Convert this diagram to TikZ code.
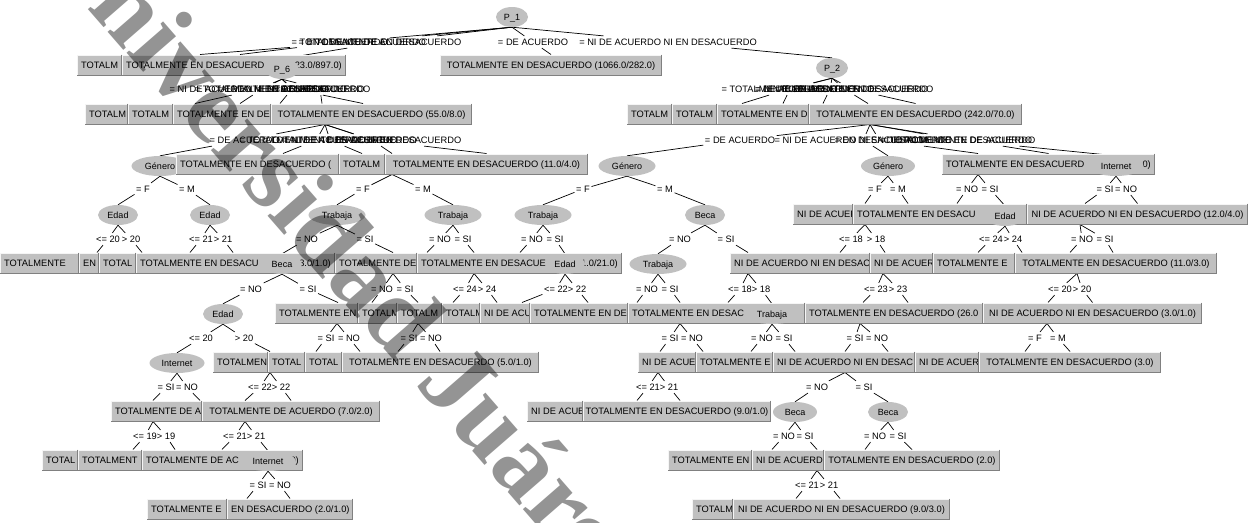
\documentclass[tikz,border=0pt]{standalone}
\usepackage{fontspec}
\setmainfont{Liberation Sans}
\newfontfamily\wmfont{Liberation Serif}
\usetikzlibrary{shapes.geometric}
\definecolor{boxgray}{RGB}{192,192,192}
\definecolor{boxdark}{RGB}{128,128,128}
\definecolor{boxlight}{RGB}{245,245,245}
\pgfdeclarelayer{bg}\pgfdeclarelayer{edges}\pgfdeclarelayer{wm}
\pgfsetlayers{bg,edges,main,wm}
\tikzset{
  txt/.style={font=\fontsize{9.3}{10}\selectfont, inner sep=0pt, text=black, text height=6.8pt, text depth=0pt},
  lbl/.style={font=\fontsize{9.3}{10}\selectfont, inner xsep=1.5pt, inner ysep=2.5pt, text=black, text height=6.8pt, text depth=0pt},
  ell/.style={ellipse, fill=boxgray, inner sep=0pt, minimum height=20pt, font=\fontsize{9}{10}\selectfont, text height=6.6pt, text depth=0pt},
  conn/.style={draw=black, line width=0.7pt},
  boxanchor/.style={inner sep=0pt, outer sep=0pt, minimum height=21pt},
}
\newcommand\wbox[6]{%
  \node[boxanchor, minimum width={#3pt-#2pt}] (#1) at ({(#2+#3)/2},#4) {};
  \begin{scope}
    \clip (#2,#4-10.5) rectangle (#3,#4+10.5);
    \fill[boxgray] (#2,#4-10.5) rectangle (#3,#4+10.5);
    \node[txt, anchor=west] (#1l) at (#2+4,#4) {#5};
    \node[txt, anchor=east] (#1r) at (#3-4,#4) {#6};
  \end{scope}
  \draw[boxlight, line width=0.8pt] (#2+0.4,#4+10.5) -- (#2+0.4,#4-10.1) -- (#3,#4-10.1);
  \draw[boxdark, line width=0.8pt] (#3-0.4,#4-10.5) -- (#3-0.4,#4+10.1) -- (#2,#4+10.1);
}
\newcommand\cbox[5]{%
  \node[boxanchor, minimum width={#3pt-#2pt}] (#1) at ({(#2+#3)/2},#4) {};
  \begin{scope}
    \clip (#2,#4-10.5) rectangle (#3,#4+10.5);
    \fill[boxgray] (#2,#4-10.5) rectangle (#3,#4+10.5);
    \node[txt] (#1t) at ({(#2+#3)/2},#4) {#5};
  \end{scope}
  \draw[boxlight, line width=0.8pt] (#2+0.4,#4+10.5) -- (#2+0.4,#4-10.1) -- (#3,#4-10.1);
  \draw[boxdark, line width=0.8pt] (#3-0.4,#4-10.5) -- (#3-0.4,#4+10.1) -- (#2,#4+10.1);
}
\newcommand\ed[3]{\draw[conn] (#1) -- (#2) (#2) -- (#3);}
\begin{document}
\begin{tikzpicture}[x=1pt,y=-1pt]
\useasboundingbox (0,0) rectangle (1250,522);
\begin{pgfonlayer}{bg}\fill[white] (0,0) rectangle (1250,522);\end{pgfonlayer}

% ---------- R0 / R1
\node[ell, minimum width=32pt] (P1) at (512,17) {P\_1};
\wbox{b1a}{77}{122}{65}{TOTALM}{}
\wbox{b1b}{122}{346}{65}{TOTALMENTE EN DESACUERD}{23.0/897.0)}
\node[ell, minimum width=34pt] (P6) at (282,69) {P\_6};
\cbox{b1c}{440}{662}{65}{TOTALMENTE EN DESACUERDO (1066.0/282.0)}
\node[ell, minimum width=32pt] (P2) at (832,68) {P\_2};
% ---------- R2
\wbox{b2a}{85}{128}{114}{TOTALM}{}
\wbox{b2b}{128}{173}{114}{TOTALM}{}
\wbox{b2c}{173}{271}{114}{TOTALMENTE EN DE}{}
\cbox{b2d}{271}{472}{114}{TOTALMENTE EN DESACUERDO (55.0/8.0)}
\wbox{b2e}{627}{672}{114}{TOTALM}{}
\wbox{b2f}{672}{717}{114}{TOTALM}{}
\wbox{b2g}{717}{809}{114}{TOTALMENTE EN D}{}
\cbox{b2h}{809}{1022}{114}{TOTALMENTE EN DESACUERDO (242.0/70.0)}
% ---------- R3
\node[ell, minimum width=57pt] (Gen1) at (160,166) {Género};
\wbox{b3a}{176}{339}{164}{TOTALMENTE EN DESACUERDO (}{}
\wbox{b3b}{339}{385}{164}{TOTALM}{}
\cbox{b3c}{385}{588}{164}{TOTALMENTE EN DESACUERDO (11.0/4.0)}
\node[ell, minimum width=57pt] (Gen2) at (627,166) {Género};
\node[ell, minimum width=54pt] (Gen3) at (888,166) {Género};
\wbox{b3d}{942}{1155}{164}{TOTALMENTE EN DESACUERD}{0)}
\node[ell, minimum width=55pt] (Int1) at (1116,166) {Internet};
% ---------- R4
\node[ell, minimum width=40pt] (Ed1) at (118,215) {Edad};
\node[ell, minimum width=40pt] (Ed2) at (210,215) {Edad};
\node[ell, minimum width=57pt] (Tr1) at (337,215) {Trabaja};
\node[ell, minimum width=57pt] (Tr2) at (453,215) {Trabaja};
\node[ell, minimum width=57pt] (Tr3) at (543,215) {Trabaja};
\node[ell, minimum width=40pt] (Be1) at (705,215) {Beca};
\wbox{b4a}{793}{853}{214}{NI DE ACUER}{}
\wbox{b4b}{853}{1027}{214}{TOTALMENTE EN DESACU}{}
\node[ell, minimum width=40pt] (Ed3) at (1005,216) {Edad};
\cbox{b4c}{1027}{1248}{214}{NI DE ACUERDO NI EN DESACUERDO (12.0/4.0)}
% ---------- R5
\wbox{b5a}{0}{79}{263}{TOTALMENTE}{}
\wbox{b5b}{79}{99}{263}{EN}{}
\wbox{b5c}{99}{136}{263}{TOTAL}{}
\wbox{b5d}{136}{335}{263}{TOTALMENTE EN DESACU}{3.0/1.0)}
\node[ell, minimum width=40pt] (Be2) at (282,264) {Beca};
\wbox{b5e}{335}{417}{263}{TOTALMENTE DE}{}
\wbox{b5f}{417}{622}{263}{TOTALMENTE EN DESACUE}{1.0/21.0)}
\node[ell, minimum width=40pt] (Ed4) at (565,264) {Edad};
\node[ell, minimum width=57pt] (Tr4) at (658,264) {Trabaja};
\wbox{b5g}{730}{870}{263}{NI DE ACUERDO NI EN DESAC}{}
\wbox{b5h}{870}{933}{263}{NI DE ACUER}{}
\wbox{b5i}{933}{1015}{263}{TOTALMENTE E}{}
\cbox{b5j}{1015}{1217}{263}{TOTALMENTE EN DESACUERDO (11.0/3.0)}
% ---------- R6
\node[ell, minimum width=40pt] (Ed5) at (223,314) {Edad};
\wbox{b6a}{275}{358}{313}{TOTALMENTE EN}{}
\wbox{b6b}{358}{397}{313}{TOTALM}{}
\wbox{b6c}{397}{442}{313}{TOTALM}{}
\wbox{b6d}{442}{480}{313}{TOTALM}{}
\wbox{b6e}{480}{530}{313}{NI DE ACU}{}
\wbox{b6f}{530}{628}{313}{TOTALMENTE EN DE}{}
\wbox{b6g}{628}{805}{313}{TOTALMENTE EN DESAC}{}
\node[ell, minimum width=57pt] (Tr5) at (772,314) {Trabaja};
\wbox{b6h}{805}{983}{313}{TOTALMENTE EN DESACUERDO (26.0}{}
\cbox{b6i}{983}{1202}{313}{NI DE ACUERDO NI EN DESACUERDO (3.0/1.0)}
% ---------- R7
\node[ell, minimum width=55pt] (Int2) at (177,363) {Internet};
\wbox{b7a}{213}{268}{362}{TOTALMEN}{}
\wbox{b7b}{268}{305}{362}{TOTAL}{}
\wbox{b7c}{305}{342}{362}{TOTAL}{}
\cbox{b7d}{342}{539}{362}{TOTALMENTE EN DESACUERDO (5.0/1.0)}
\wbox{b7e}{638}{696}{362}{NI DE ACUE}{}
\wbox{b7f}{696}{773}{362}{TOTALMENTE E}{}
\wbox{b7g}{773}{915}{362}{NI DE ACUERDO NI EN DESAC}{}
\wbox{b7h}{915}{979}{362}{NI DE ACUER}{}
\cbox{b7i}{979}{1161}{362}{TOTALMENTE EN DESACUERDO (3.0)}
% ---------- R8
\wbox{b8a}{111}{202}{411}{TOTALMENTE DE A}{}
\cbox{b8b}{202}{380}{411}{TOTALMENTE DE ACUERDO (7.0/2.0)}
\wbox{b8c}{527}{583}{411}{NI DE ACUE}{}
\cbox{b8d}{583}{771}{411}{TOTALMENTE EN DESACUERDO (9.0/1.0)}
\node[ell, minimum width=44pt] (Be3) at (795,412) {Beca};
\node[ell, minimum width=40pt] (Be4) at (888,412) {Beca};
% ---------- R9
\wbox{b9a}{42}{78}{460}{TOTAL}{}
\wbox{b9b}{78}{142}{460}{TOTALMENT}{}
\wbox{b9c}{142}{303}{460}{TOTALMENTE DE AC}{0)}
\node[ell, minimum width=55pt] (Int3) at (268,461) {Internet};
\wbox{b9d}{668}{752}{460}{TOTALMENTE EN}{}
\wbox{b9e}{752}{824}{460}{NI DE ACUERD}{}
\cbox{b9f}{824}{1000}{460}{TOTALMENTE EN DESACUERDO (2.0)}
% ---------- R10
\wbox{b10a}{147}{227}{509}{TOTALMENTE E}{}
\wbox{b10b}{227}{353}{509}{EN DESACUERDO (2.0/1.0)}{}
\wbox{b10c}{692}{733}{509}{TOTALM}{}
\cbox{b10d}{733}{950}{509}{NI DE ACUERDO NI EN DESACUERDO (9.0/3.0)}

% ---------- labels
% L0
\node[lbl, anchor=west] (l0a) at (290,42) {= TOTALMENTE DE ACUERDO};
\node[lbl, anchor=west] (l0b) at (297,42) {= EN DESACUERDO};
\node[lbl, anchor=east] (l0c) at (463,42) {= TOTALMENTE EN DESACUERDO};
\node[lbl] (l0d) at (533,42) {= DE ACUERDO};
\node[lbl] (l0e) at (668,42) {= NI DE ACUERDO NI EN DESACUERDO};
% L1
\node[lbl, anchor=west] (l1a) at (168,89) {= NI DE ACUERDO NI EN DESACUERDO};
\node[lbl] (l1b) at (262,89) {= TOTALMENTE DE ACUERDO};
\node[lbl] (l1c) at (292,89) {= DE ACUERDO};
\node[lbl] (l1d) at (320,89) {= EN DESACUERDO};
\node[lbl, anchor=east] (l1e) at (372,89) {= TOTALMENTE EN DESACUERDO};
\node[lbl, anchor=west] (l1f) at (720,89) {= TOTALMENTE DE ACUERDO};
\node[lbl] (l1g) at (790,89) {= DE ACUERDO};
\node[lbl] (l1h) at (830,89) {= EN DESACUERDO};
\node[lbl, anchor=east] (l1i) at (935,89) {= NI DE ACUERDO NI EN DESACUERDO};
\node[lbl, anchor=east] (l1j) at (930,89) {= TOTALMENTE EN DESACUERDO};
% L2
\node[lbl, anchor=west] (l2a) at (208,140) {= DE ACUERDO};
\node[lbl, anchor=west] (l2b) at (238,140) {= TOTALMENTE EN DESACUERDO};
\node[lbl] (l2c) at (330,140) {= TOTALMENTE DE ACUERDO};
\node[lbl] (l2d) at (372,140) {= EN DESACUERDO};
\node[lbl, anchor=east] (l2e) at (463,140) {= NI DE ACUERDO NI EN DESACUERDO};
\node[lbl] (l2f) at (740,140) {= DE ACUERDO};
\node[lbl, anchor=west] (l2g) at (773,140) {= NI DE ACUERDO NI EN DESACUERDO};
\node[lbl, anchor=west] (l2h) at (833,140) {= EN DESACUERDO};
\node[lbl] (l2i) at (965,140) {= TOTALMENTE DE ACUERDO};
\node[lbl, anchor=east] (l2j) at (1037,140) {= TOTALMENTE EN DESACUERDO};
% L3
\node[lbl] (l3a) at (143,189) {= F};
\node[lbl] (l3b) at (187,189) {= M};
\node[lbl] (l3c) at (363,189) {= F};
\node[lbl] (l3d) at (423,189) {= M};
\node[lbl] (l3e) at (583,189) {= F};
\node[lbl] (l3f) at (665,189) {= M};
\node[lbl] (l3g) at (875,189) {= F};
\node[lbl] (l3h) at (898,189) {= M};
\node[lbl] (l3i) at (967,189) {= NO};
\node[lbl] (l3j) at (990,189) {= SI};
\node[lbl] (l3k) at (1105,189) {= SI};
\node[lbl] (l3l) at (1126,189) {= NO};
% L4
\node[lbl] (l4a) at (108,239) {<= 20};
\node[lbl] (l4b) at (131,239) {> 20};
\node[lbl] (l4c) at (201,239) {<= 21};
\node[lbl] (l4d) at (223,239) {> 21};
\node[lbl] (l4e) at (307,239) {= NO};
\node[lbl] (l4f) at (365,239) {= SI};
\node[lbl] (l4g) at (440,239) {= NO};
\node[lbl] (l4h) at (463,239) {= SI};
\node[lbl] (l4i) at (532,239) {= NO};
\node[lbl] (l4j) at (555,239) {= SI};
\node[lbl] (l4k) at (680,239) {= NO};
\node[lbl] (l4l) at (726,239) {= SI};
\node[lbl] (l4m) at (851,239) {<= 18};
\node[lbl] (l4n) at (876,239) {> 18};
\node[lbl] (l4o) at (991,239) {<= 24};
\node[lbl] (l4p) at (1013,239) {> 24};
\node[lbl] (l4q) at (1082,239) {= NO};
\node[lbl] (l4r) at (1105,239) {= SI};
% L5
\node[lbl] (l5a) at (251,289) {= NO};
\node[lbl] (l5b) at (308,289) {= SI};
\node[lbl] (l5c) at (382,289) {= NO};
\node[lbl] (l5d) at (405,289) {= SI};
\node[lbl] (l5e) at (465,289) {<= 24};
\node[lbl] (l5f) at (487,289) {> 24};
\node[lbl] (l5g) at (556,289) {<= 22};
\node[lbl] (l5h) at (577,289) {> 22};
\node[lbl] (l5i) at (647,289) {= NO};
\node[lbl] (l5j) at (670,289) {= SI};
\node[lbl] (l5k) at (740,289) {<= 18};
\node[lbl] (l5l) at (761,289) {> 18};
\node[lbl] (l5m) at (876,289) {<= 23};
\node[lbl] (l5n) at (898,289) {> 23};
\node[lbl] (l5o) at (1060,289) {<= 20};
\node[lbl] (l5p) at (1082,289) {> 20};
% L6
\node[lbl] (l6a) at (201,338) {<= 20};
\node[lbl] (l6b) at (244,338) {> 20};
\node[lbl] (l6c) at (326,338) {= SI};
\node[lbl] (l6d) at (349,338) {= NO};
\node[lbl] (l6e) at (409,338) {= SI};
\node[lbl] (l6f) at (431,338) {= NO};
\node[lbl] (l6g) at (670,338) {= SI};
\node[lbl] (l6h) at (692,338) {= NO};
\node[lbl] (l6i) at (762,338) {= NO};
\node[lbl] (l6j) at (784,338) {= SI};
\node[lbl] (l6k) at (855,338) {= SI};
\node[lbl] (l6l) at (877,338) {= NO};
\node[lbl] (l6m) at (1035,338) {= F};
\node[lbl] (l6n) at (1058,338) {= M};
% L7
\node[lbl] (l7a) at (166,387) {= SI};
\node[lbl] (l7b) at (187,387) {= NO};
\node[lbl] (l7c) at (260,387) {<= 22};
\node[lbl] (l7d) at (281,387) {> 22};
\node[lbl] (l7e) at (648,387) {<= 21};
\node[lbl] (l7f) at (669,387) {> 21};
\node[lbl] (l7g) at (817,387) {= NO};
\node[lbl] (l7h) at (864,387) {= SI};
% L8
\node[lbl] (l8a) at (145,436) {<= 19};
\node[lbl] (l8b) at (166,436) {> 19};
\node[lbl] (l8c) at (235,436) {<= 21};
\node[lbl] (l8d) at (256,436) {> 21};
\node[lbl] (l8e) at (784,436) {= NO};
\node[lbl] (l8f) at (805,436) {= SI};
\node[lbl] (l8g) at (875,436) {= NO};
\node[lbl] (l8h) at (898,436) {= SI};
% L9
\node[lbl] (l9a) at (258,485) {= SI};
\node[lbl] (l9b) at (280,485) {= NO};
\node[lbl] (l9c) at (807,485) {<= 21};
\node[lbl] (l9d) at (829,485) {> 21};

% ---------- hidden parents (bottom points) and child ends (top points)
\coordinate (H1) at (325,124.5);  \coordinate (H2) at (870,124.5);
\coordinate (H3) at (392,174.5);  \coordinate (H8) at (978,174.5);
\coordinate (H7) at (865,224.5);  \coordinate (H9) at (1080,224.5);
\coordinate (H4) at (393,273.5);  \coordinate (H5) at (474,273.5);
\coordinate (H6) at (748,273.5);  \coordinate (H10) at (883,273.5);
\coordinate (H11) at (1077,273.5);
\coordinate (H17) at (337,323.5); \coordinate (H12) at (418,323.5);
\coordinate (H13) at (680,323.5); \coordinate (H14) at (860,323.5);
\coordinate (H15) at (1047,323.5);
\coordinate (H16) at (270,372.5); \coordinate (H22) at (658,372.5);
\coordinate (H18) at (845,372.5);
\coordinate (H19) at (153,421.5); \coordinate (H20) at (245,421.5);
\coordinate (H21) at (817,470.5);

\coordinate (t1a) at (200,54.5); \coordinate (t1b) at (240,54.5);
\coordinate (t2a) at (195,103.5); \coordinate (t2b) at (240,103.5);
\coordinate (t2c) at (280,103.5); \coordinate (t2d) at (322,103.5);
\coordinate (t2e) at (363,103.5); \coordinate (t2f) at (742,103.5);
\coordinate (t2g) at (783,103.5); \coordinate (t2h) at (823,103.5);
\coordinate (t2i) at (868,103.5);
\coordinate (t3b) at (283,153.5); \coordinate (t3c) at (362,153.5);
\coordinate (t3d) at (392,153.5); \coordinate (t3h) at (978,153.5);
\coordinate (t4g) at (865,203.5); \coordinate (t4h) at (908,203.5);
\coordinate (t4i) at (957,203.5); \coordinate (t4k) at (1085,203.5);
\coordinate (t5a) at (97,252.5);  \coordinate (t5b) at (142,252.5);
\coordinate (t5c) at (190,252.5); \coordinate (t5d) at (233,252.5);
\coordinate (t5f) at (393,252.5); \coordinate (t5g) at (427,252.5);
\coordinate (t5h) at (474,252.5); \coordinate (t5i) at (520,252.5);
\coordinate (t5l) at (748,252.5); \coordinate (t5m) at (840,252.5);
\coordinate (t5n) at (885,252.5); \coordinate (t5o) at (978,252.5);
\coordinate (t5p) at (1022,252.5); \coordinate (t5q) at (1070,252.5);
\coordinate (t5r) at (1113,252.5);
\coordinate (t6b) at (338,302.5); \coordinate (t6c) at (372,302.5);
\coordinate (t6d) at (418,302.5); \coordinate (t6e) at (453,302.5);
\coordinate (t6f) at (497,302.5); \coordinate (t6g) at (522,302.5);
\coordinate (t6h) at (588,302.5); \coordinate (t6i) at (637,302.5);
\coordinate (t6j) at (680,302.5); \coordinate (t6k) at (728,302.5);
\coordinate (t6m) at (863,302.5); \coordinate (t6n) at (908,302.5);
\coordinate (t6o) at (1048,302.5);
\coordinate (t7b) at (270,351.5); \coordinate (t7c) at (316,351.5);
\coordinate (t7d) at (360,351.5); \coordinate (t7e) at (398,351.5);
\coordinate (t7f) at (440,351.5); \coordinate (t7g) at (660,351.5);
\coordinate (t7h) at (703,351.5); \coordinate (t7i) at (751,351.5);
\coordinate (t7j) at (795,351.5); \coordinate (t7k) at (845,351.5);
\coordinate (t7l) at (888,351.5); \coordinate (t7m) at (1025,351.5);
\coordinate (t8a) at (153,400.5); \coordinate (t8b) at (200,400.5);
\coordinate (t8c) at (245,400.5); \coordinate (t8e) at (637,400.5);
\coordinate (t8f) at (680,400.5);
\coordinate (t9a) at (133,449.5); \coordinate (t9b) at (175,449.5);
\coordinate (t9c) at (222,449.5); \coordinate (t9e) at (772,449.5);
\coordinate (t9f) at (817,449.5); \coordinate (t9g) at (865,449.5);
\coordinate (t10a) at (247,498.5); \coordinate (t10b) at (290,498.5);
\coordinate (t10c) at (796,498.5); \coordinate (t10d) at (840,498.5);

% ---------- connectors
\begin{pgfonlayer}{edges}
\ed{P1.south}{l0a}{t1a} \ed{P1.south}{l0b}{t1b} \ed{P1.south}{l0c}{P6.north}
\ed{P1.south}{l0d}{b1c.north} \ed{P1.south}{l0e}{P2.north}
\ed{P6.south}{l1a}{t2a} \ed{P6.south}{l1b}{t2b} \ed{P6.south}{l1c}{t2c}
\ed{P6.south}{l1d}{t2d} \ed{P6.south}{l1e}{t2e}
\ed{P2.south}{l1f}{t2f} \ed{P2.south}{l1g}{t2g} \ed{P2.south}{l1h}{t2h}
\ed{P2.south}{l1i}{t2i} \ed{P2.south}{l1j}{b2h.north}
\ed{H1}{l2a}{Gen1.north} \ed{H1}{l2b}{t3b} \ed{H1}{l2c}{t3c} \ed{H1}{l2d}{t3d} \ed{H1}{l2e}{b3c.north}
\ed{H2}{l2f}{Gen2.north} \ed{H2}{l2g}{Gen3.north} \ed{H2}{l2h}{t3h} \ed{H2}{l2i}{b3d.north} \ed{H2}{l2j}{Int1.north}
\ed{Gen1.south}{l3a}{Ed1.north} \ed{Gen1.south}{l3b}{Ed2.north}
\ed{H3}{l3c}{Tr1.north} \ed{H3}{l3d}{Tr2.north}
\ed{Gen2.south}{l3e}{Tr3.north} \ed{Gen2.south}{l3f}{Be1.north}
\ed{Gen3.south}{l3g}{t4g} \ed{Gen3.south}{l3h}{t4h}
\ed{H8}{l3i}{t4i} \ed{H8}{l3j}{Ed3.north}
\ed{Int1.south}{l3k}{t4k} \ed{Int1.south}{l3l}{b4c.north}
\ed{Ed1.south}{l4a}{t5a} \ed{Ed1.south}{l4b}{t5b}
\ed{Ed2.south}{l4c}{t5c} \ed{Ed2.south}{l4d}{t5d}
\ed{Tr1.south}{l4e}{Be2.north} \ed{Tr1.south}{l4f}{t5f}
\ed{Tr2.south}{l4g}{t5g} \ed{Tr2.south}{l4h}{t5h}
\ed{Tr3.south}{l4i}{t5i} \ed{Tr3.south}{l4j}{Ed4.north}
\ed{Be1.south}{l4k}{Tr4.north} \ed{Be1.south}{l4l}{t5l}
\ed{H7}{l4m}{t5m} \ed{H7}{l4n}{t5n}
\ed{Ed3.south}{l4o}{t5o} \ed{Ed3.south}{l4p}{t5p}
\ed{H9}{l4q}{t5q} \ed{H9}{l4r}{t5r}
\ed{Be2.south}{l5a}{Ed5.north} \ed{Be2.south}{l5b}{t6b}
\ed{H4}{l5c}{t6c} \ed{H4}{l5d}{t6d}
\ed{H5}{l5e}{t6e} \ed{H5}{l5f}{t6f}
\ed{Ed4.south}{l5g}{t6g} \ed{Ed4.south}{l5h}{t6h}
\ed{Tr4.south}{l5i}{t6i} \ed{Tr4.south}{l5j}{t6j}
\ed{H6}{l5k}{t6k} \ed{H6}{l5l}{Tr5.north}
\ed{H10}{l5m}{t6m} \ed{H10}{l5n}{t6n}
\ed{H11}{l5o}{t6o} \ed{H11}{l5p}{b6i.north}
\ed{Ed5.south}{l6a}{Int2.north} \ed{Ed5.south}{l6b}{t7b}
\ed{H17}{l6c}{t7c} \ed{H17}{l6d}{t7d}
\ed{H12}{l6e}{t7e} \ed{H12}{l6f}{t7f}
\ed{H13}{l6g}{t7g} \ed{H13}{l6h}{t7h}
\ed{Tr5.south}{l6i}{t7i} \ed{Tr5.south}{l6j}{t7j}
\ed{H14}{l6k}{t7k} \ed{H14}{l6l}{t7l}
\ed{H15}{l6m}{t7m} \ed{H15}{l6n}{b7i.north}
\ed{Int2.south}{l7a}{t8a} \ed{Int2.south}{l7b}{t8b}
\ed{H16}{l7c}{t8c} \ed{H16}{l7d}{b8b.north}
\ed{H22}{l7e}{t8e} \ed{H22}{l7f}{t8f}
\ed{H18}{l7g}{Be3.north} \ed{H18}{l7h}{Be4.north}
\ed{H19}{l8a}{t9a} \ed{H19}{l8b}{t9b}
\ed{H20}{l8c}{t9c} \ed{H20}{l8d}{Int3.north}
\ed{Be3.south}{l8e}{t9e} \ed{Be3.south}{l8f}{t9f}
\ed{Be4.south}{l8g}{t9g} \ed{Be4.south}{l8h}{b9f.north}
\ed{Int3.south}{l9a}{t10a} \ed{Int3.south}{l9b}{t10b}
\ed{H21}{l9c}{t10c} \ed{H21}{l9d}{t10d}
\end{pgfonlayer}

% ---------- watermark
\begin{pgfonlayer}{wm}
\node[rotate=-49, anchor=base west, inner sep=0pt, font=\wmfont\bfseries\fontsize{105}{105}\selectfont, text=black, text opacity=0.42] (wm) at (37,-50) {Universidad Juárez};
\end{pgfonlayer}
\end{tikzpicture}
\end{document}
